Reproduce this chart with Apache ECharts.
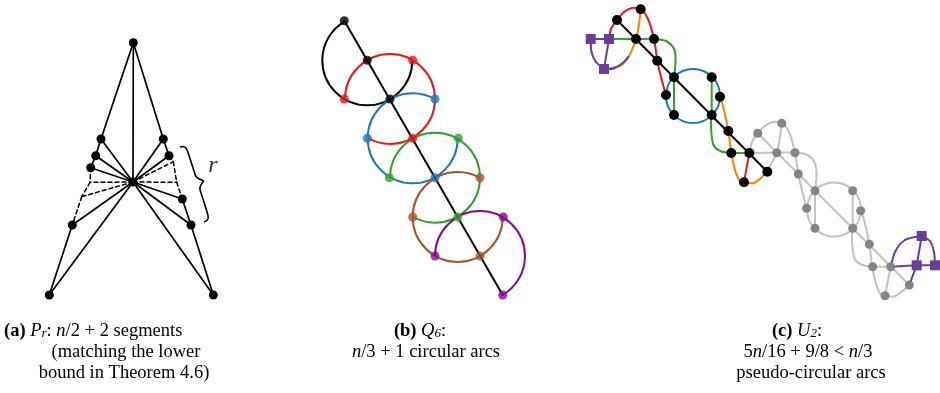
<!DOCTYPE html>
<html>
<head>
<meta charset="utf-8">
<script src="https://cdn.jsdelivr.net/npm/echarts@6/dist/echarts.min.js"></script>
<style>
  html, body { margin: 0; padding: 0; background: #ffffff; }
  #chart { width: 940px; height: 393px; }
</style>
</head>
<body>
<div id="chart"></div>
<script>
// ---------- (a) P_r : fan of segments ----------
const aPoints = [
  [133.3, 42.7],                                                      // 0 apex
  [133, 182],                                                         // 1 hub
  [101, 139], [95.7, 155.7], [90.7, 167.7], [72.3, 225], [49.3, 295], // 2..6 left chain
  [163.3, 139], [169, 155.7], [182.3, 199], [191, 225], [213.3, 295], // 7..11 right chain
  [90, 182.3], [81.7, 196.7], [173.3, 161.7], [176.7, 182.3]          // 12..15 elided (dashed) bends
];
const aDots = [0, 1, 2, 3, 4, 5, 6, 7, 8, 9, 10, 11];
const aSolid = [
  [0, 1], [0, 2], [2, 3], [3, 4], [2, 1], [3, 1], [4, 1], [5, 1], [5, 6], [6, 1],
  [0, 7], [7, 8], [7, 1], [8, 1], [9, 1], [9, 10], [10, 1], [10, 11], [11, 1]
];
const aDashed = [[4, 12], [12, 13], [13, 5], [1, 12], [1, 13], [8, 14], [14, 15], [15, 9], [1, 14], [1, 15]];
const braceEnds = [[180, 147], [204, 222]];
const braceDepth = 12;
const braceLabel = [213, 166];

// ---------- (b) Q_6 : circular arcs on a hexagonal spine ----------
const bSpine = [
  [344.3, 20.7], [367.3, 60.3], [390, 99], [412.7, 138.3],
  [435, 177.7], [457.7, 217], [480, 256], [502.7, 295]
];
const bArcNames = ["black", "red", "blue", "green", "brown", "purple"]; // arc k is centred on spine node k+1
const bArcFrom = [0, 180, 0, 180, 0, 180];
const bArcTo = [240, 480, 300, 480, 300, 420];
const bRadius = 45;
const bNodes = [
  [344.3, 20.7], [367.3, 60.3], [390, 99], [412.7, 138.3], [435, 177.7], [457.7, 217], [480, 256], [502.7, 295],
  [412.7, 60.3], [344.3, 99], [435, 99], [367.3, 138.3], [458.3, 138.3], [389.3, 177.7],
  [480, 177.7], [412.7, 217], [503.3, 217], [435, 256]
];
const bNodeArc = [
  "black", "black", "black", "red", "blue", "green", "brown", "purple",
  "red", "red", "blue", "blue", "green", "green", "brown", "brown", "purple", "purple"
];

// ---------- (c) U_2 : pseudo-circular arcs ----------
const cNodesA = [
  [617, 20], [640.7, 9.3], [636, 39], [654, 39], [657.3, 60.7], [674, 77.3], [666, 95], [674, 115],
  [711.7, 77.3], [720, 96.7], [711.7, 115], [728.3, 131], [731.3, 153], [749.3, 153], [744, 182.3], [767.3, 171.7]
];
const cNodesB = [
  [757.7, 133.3], [781.7, 123.3], [776.7, 152.7], [795, 152.7], [798.3, 174], [815, 190.7], [806.7, 208.3], [815, 228.3],
  [852.7, 190.7], [860.7, 210.7], [852.7, 228.3], [869.3, 244.3], [872.7, 266.7], [890.7, 266.7], [885, 295.7], [909.3, 285]
];
const cSquares = [[590.7, 39], [609, 39], [604, 69], [921.7, 236], [916.7, 265.3], [935, 265.3]];

const cSpine = [[[617, 20], [767.3, 171.7]]];
const cRed = [
  [[609, 39], [611, 29], [617, 20], [624, 12], [632, 8], [640.7, 9.3], [648, 19], [654, 39], [657.3, 60.7], [661.5, 79], [666, 95]],
  [[749.3, 153], [744, 182.3]]
];
const cOrange = [
  [[604, 69], [620, 66], [628.3, 57], [636, 39], [639, 24], [640.7, 9.3]],
  [[720, 96.7], [724, 110], [728.3, 131], [731.3, 153], [735, 170], [739.5, 180.5], [744, 182.3], [753.5, 183], [761.5, 177.5], [767.3, 171.7]]
];
const cGreen = [
  [[609, 39], [636, 39], [654, 39], [667, 41.5], [674.5, 50], [675.5, 62], [674, 77.3]],
  [[674, 77.3], [674, 115]],
  [[711.7, 77.3], [711.7, 115]],
  [[711.7, 115], [711, 127], [713.5, 145], [721.5, 151.5], [731.3, 153], [749.3, 153]]
];
const cBlueCircles = [[693, 96, 27]];
const cPurple = [
  [[590.7, 39], [609, 39]],
  [[609, 39], [604, 69]],
  [[590.7, 39], [591.5, 52], [596, 62], [604, 69]],
  [[604, 69], [613.5, 68.5], [622, 63.5], [628.3, 57]],
  [[890.7, 266.7], [916.7, 265.3], [935, 265.3]],
  [[921.7, 236], [916.7, 265.3]],
  [[890.7, 266.7], [895.5, 251], [905, 240], [921.7, 236]],
  [[921.7, 236], [930, 241], [934, 252], [935, 265.3]],
  [[909.3, 285], [913, 275], [916.7, 265.3]]
];
const cGray = [
  [[757.7, 133.3], [909.3, 285]],
  [[749.3, 153], [752, 142], [757.7, 133.3], [765, 126], [773, 122], [781.7, 123.3], [789, 132], [795, 152.7], [798.3, 174], [802.5, 192], [806.7, 208.3]],
  [[767.3, 171.7], [776.7, 152.7], [780, 137], [781.7, 123.3]],
  [[749.3, 153], [776.7, 152.7], [795, 152.7], [807.5, 155], [815, 163.5], [816.5, 175.5], [815, 190.7]],
  [[815, 190.7], [815, 228.3]],
  [[852.7, 190.7], [852.7, 228.3]],
  [[852.7, 228.3], [852, 240.5], [854.5, 258.5], [862.5, 265], [872.7, 266.7], [890.7, 266.7]],
  [[860.7, 210.7], [865, 223.5], [869.3, 244.3], [872.3, 266.5], [876, 283.5], [880.5, 294], [885, 295.7], [894.5, 296.5], [902.5, 291], [909.3, 285]],
  [[890.7, 266.7], [885, 295.7]]
];
const cGrayCircles = [[834, 209.5, 27]];

// ---------- captions ----------
const captionA = ["{b|(a)} {i|P}{s|r}: {i|n}/2 + 2 segments", "(matching the lower", "bound in Theorem 4.6)"];
const captionB = ["{b|(b)} {i|Q}{s|6}:", "{i|n}/3 + 1 circular arcs"];
const captionC = ["{b|(c)} {i|U}{s|2}:", "5{i|n}/16 + 9/8 < {i|n}/3", "pseudo-circular arcs"];

const bColors = { black: "#000000", red: "#e41a1c", blue: "#1f78b4", green: "#33a02c", brown: "#a65628", purple: "#8b0a8b" };
const C = { red: "#e31a1c", orange: "#ff7f00", green: "#33a02c", blue: "#1f78b4", purple: "#6a3d9a", grayLine: "#c2c2c2", grayDot: "#858585" };
const FONT = "Liberation Serif";
const FS = 18.5;

// smooth path through the waypoints (catmull-rom -> cubic bezier)
function curveShapes(pts, color, width, dash) {
  const style = { stroke: color, lineWidth: width, fill: null, lineDash: dash || null, lineCap: "round" };
  if (pts.length === 2) {
    return [{ type: "line", shape: { x1: pts[0][0], y1: pts[0][1], x2: pts[1][0], y2: pts[1][1] }, style }];
  }
  const out = [];
  for (let i = 0; i < pts.length - 1; i++) {
    const p0 = pts[Math.max(i - 1, 0)], p1 = pts[i], p2 = pts[i + 1], p3 = pts[Math.min(i + 2, pts.length - 1)];
    out.push({
      type: "bezierCurve",
      shape: {
        x1: p1[0], y1: p1[1], x2: p2[0], y2: p2[1],
        cpx1: p1[0] + (p2[0] - p0[0]) / 6, cpy1: p1[1] + (p2[1] - p0[1]) / 6,
        cpx2: p2[0] - (p3[0] - p1[0]) / 6, cpy2: p2[1] - (p3[1] - p1[1]) / 6
      },
      style
    });
  }
  return out;
}

function pathSeries(paths, color, width, z, dash) {
  return {
    type: "custom",
    coordinateSystem: "cartesian2d",
    silent: true,
    z,
    data: paths.map((p, i) => [p[0][0], p[0][1], i]),
    renderItem: (params, api) => {
      const pts = paths[api.value(2)].map((p) => api.coord(p));
      return { type: "group", children: curveShapes(pts, color, width, dash) };
    }
  };
}

function circleSeries(circles, color, width, z) {
  return {
    type: "custom",
    coordinateSystem: "cartesian2d",
    silent: true,
    z,
    data: circles,
    renderItem: (params, api) => {
      const c = api.coord([api.value(0), api.value(1)]);
      const r = api.size([api.value(2), api.value(2)])[0];
      return { type: "circle", shape: { cx: c[0], cy: c[1], r }, style: { stroke: color, lineWidth: width, fill: null } };
    }
  };
}

function dots(points, color, size, z, symbol) {
  return {
    type: "scatter",
    silent: true,
    symbol: symbol || "circle",
    symbolSize: size,
    itemStyle: { color, opacity: 1 },
    z,
    data: points
  };
}

const aSolidPaths = aSolid.map(([i, j]) => [aPoints[i], aPoints[j]]);
const aDashedPaths = aDashed.map(([i, j]) => [aPoints[i], aPoints[j]]);

const series = [
  pathSeries(aSolidPaths, "#000000", 1.7, 2),
  pathSeries(aDashedPaths, "#000000", 1.5, 2, [4, 3]),
  dots(aDots.map((i) => aPoints[i]), "#000000", 9, 5),
  {
    // the curly brace marking r
    type: "custom",
    coordinateSystem: "cartesian2d",
    silent: true,
    z: 2,
    data: [[braceEnds[0][0], braceEnds[0][1], braceEnds[1][0], braceEnds[1][1], braceDepth]],
    renderItem: (params, api) => {
      const a = api.coord([api.value(0), api.value(1)]);
      const b = api.coord([api.value(2), api.value(3)]);
      const d = api.value(4);
      const len = Math.hypot(b[0] - a[0], b[1] - a[1]);
      const ux = (b[0] - a[0]) / len, uy = (b[1] - a[1]) / len;
      const nx = uy, ny = -ux;                       // normal pointing away from the polygon
      const P = (t, s) => [a[0] + ux * t + nx * s, a[1] + uy * t + ny * s];
      const h = len / 2;
      const m = d * 0.5;
      const f = (p) => p[0].toFixed(2) + " " + p[1].toFixed(2);
      const path =
        "M" + f(P(0, 0)) +
        " C" + f(P(0, m)) + " " + f(P(4, m)) + " " + f(P(10, m)) +
        " L" + f(P(h - 8, m)) +
        " C" + f(P(h - 3, m)) + " " + f(P(h - 1, d)) + " " + f(P(h, d)) +
        " C" + f(P(h + 1, d)) + " " + f(P(h + 3, m)) + " " + f(P(h + 8, m)) +
        " L" + f(P(len - 10, m)) +
        " C" + f(P(len - 4, m)) + " " + f(P(len, m)) + " " + f(P(len, 0));
      return { type: "path", shape: { pathData: path }, style: { stroke: "#000000", lineWidth: 1.6, fill: null } };
    }
  },
  {
    type: "scatter",
    silent: true,
    symbolSize: 0,
    data: [braceLabel],
    label: {
      show: true, position: "inside", formatter: "r",
      fontFamily: FONT, fontStyle: "italic", fontSize: 24, color: "#000000"
    }
  },
  // (b)
  pathSeries([[bSpine[0], bSpine[bSpine.length - 1]]], "#000000", 2, 3),
  {
    type: "custom",
    coordinateSystem: "cartesian2d",
    silent: true,
    z: 2,
    data: bArcNames.map((n, k) => [bSpine[k + 1][0], bSpine[k + 1][1], bRadius, bArcFrom[k], bArcTo[k], k]),
    renderItem: (params, api) => {
      const c = api.coord([api.value(0), api.value(1)]);
      const r = api.size([api.value(2), api.value(2)])[0];
      return {
        type: "arc",
        shape: { cx: c[0], cy: c[1], r, startAngle: api.value(3) * Math.PI / 180, endAngle: api.value(4) * Math.PI / 180, clockwise: true },
        style: { stroke: bColors[bArcNames[api.value(5)]], lineWidth: 2, fill: null }
      };
    }
  },
  {
    type: "scatter",
    silent: true,
    symbolSize: 9,
    z: 5,
    data: bNodes.map((p, i) => ({ value: p, itemStyle: { color: bColors[bNodeArc[i]] } }))
  },
  // (c)
  pathSeries(cGray, C.grayLine, 2, 1),
  circleSeries(cGrayCircles, C.grayLine, 2, 1),
  pathSeries(cOrange, C.orange, 2, 2),
  pathSeries(cRed, C.red, 2, 2),
  pathSeries(cGreen, C.green, 2, 2),
  circleSeries(cBlueCircles, C.blue, 2, 2),
  pathSeries(cPurple, C.purple, 2, 3),
  pathSeries(cSpine, "#000000", 2, 3),
  dots(cNodesB, C.grayDot, 9, 5),
  dots(cNodesA, "#000000", 10, 6),
  dots(cSquares, C.purple, 10, 6, "rect")
];

const rich = {
  b: { fontFamily: FONT, fontWeight: "bold", fontSize: FS },
  i: { fontFamily: FONT, fontStyle: "italic", fontSize: FS },
  s: { fontFamily: FONT, fontStyle: "italic", fontSize: 13, verticalAlign: "bottom", lineHeight: 12 }
};
function captionLine(text, x, y, align) {
  return {
    type: "text",
    x, y,
    silent: true,
    style: {
      text, rich, align: align || "center", verticalAlign: "middle",
      fontFamily: FONT, fontSize: FS, fill: "#000000"
    }
  };
}

const graphic = [
  captionLine(captionA[0], 4, 331, "left"),
  captionLine(captionA[1], 126, 352),
  captionLine(captionA[2], 124, 373),
  captionLine(captionB[0], 420, 331),
  captionLine(captionB[1], 426, 352),
  captionLine(captionC[0], 797, 331),
  captionLine(captionC[1], 808, 352),
  captionLine(captionC[2], 811, 373)
];

const chart = echarts.init(document.getElementById("chart"), null, { renderer: "canvas" });
chart.setOption({
  animation: false,
  backgroundColor: "#ffffff",
  grid: { left: 0, right: 0, top: 0, bottom: 0 },
  xAxis: { type: "value", min: 0, max: 940, show: false },
  yAxis: { type: "value", min: 0, max: 393, inverse: true, show: false },
  series,
  graphic
});
</script>
</body>
</html>
